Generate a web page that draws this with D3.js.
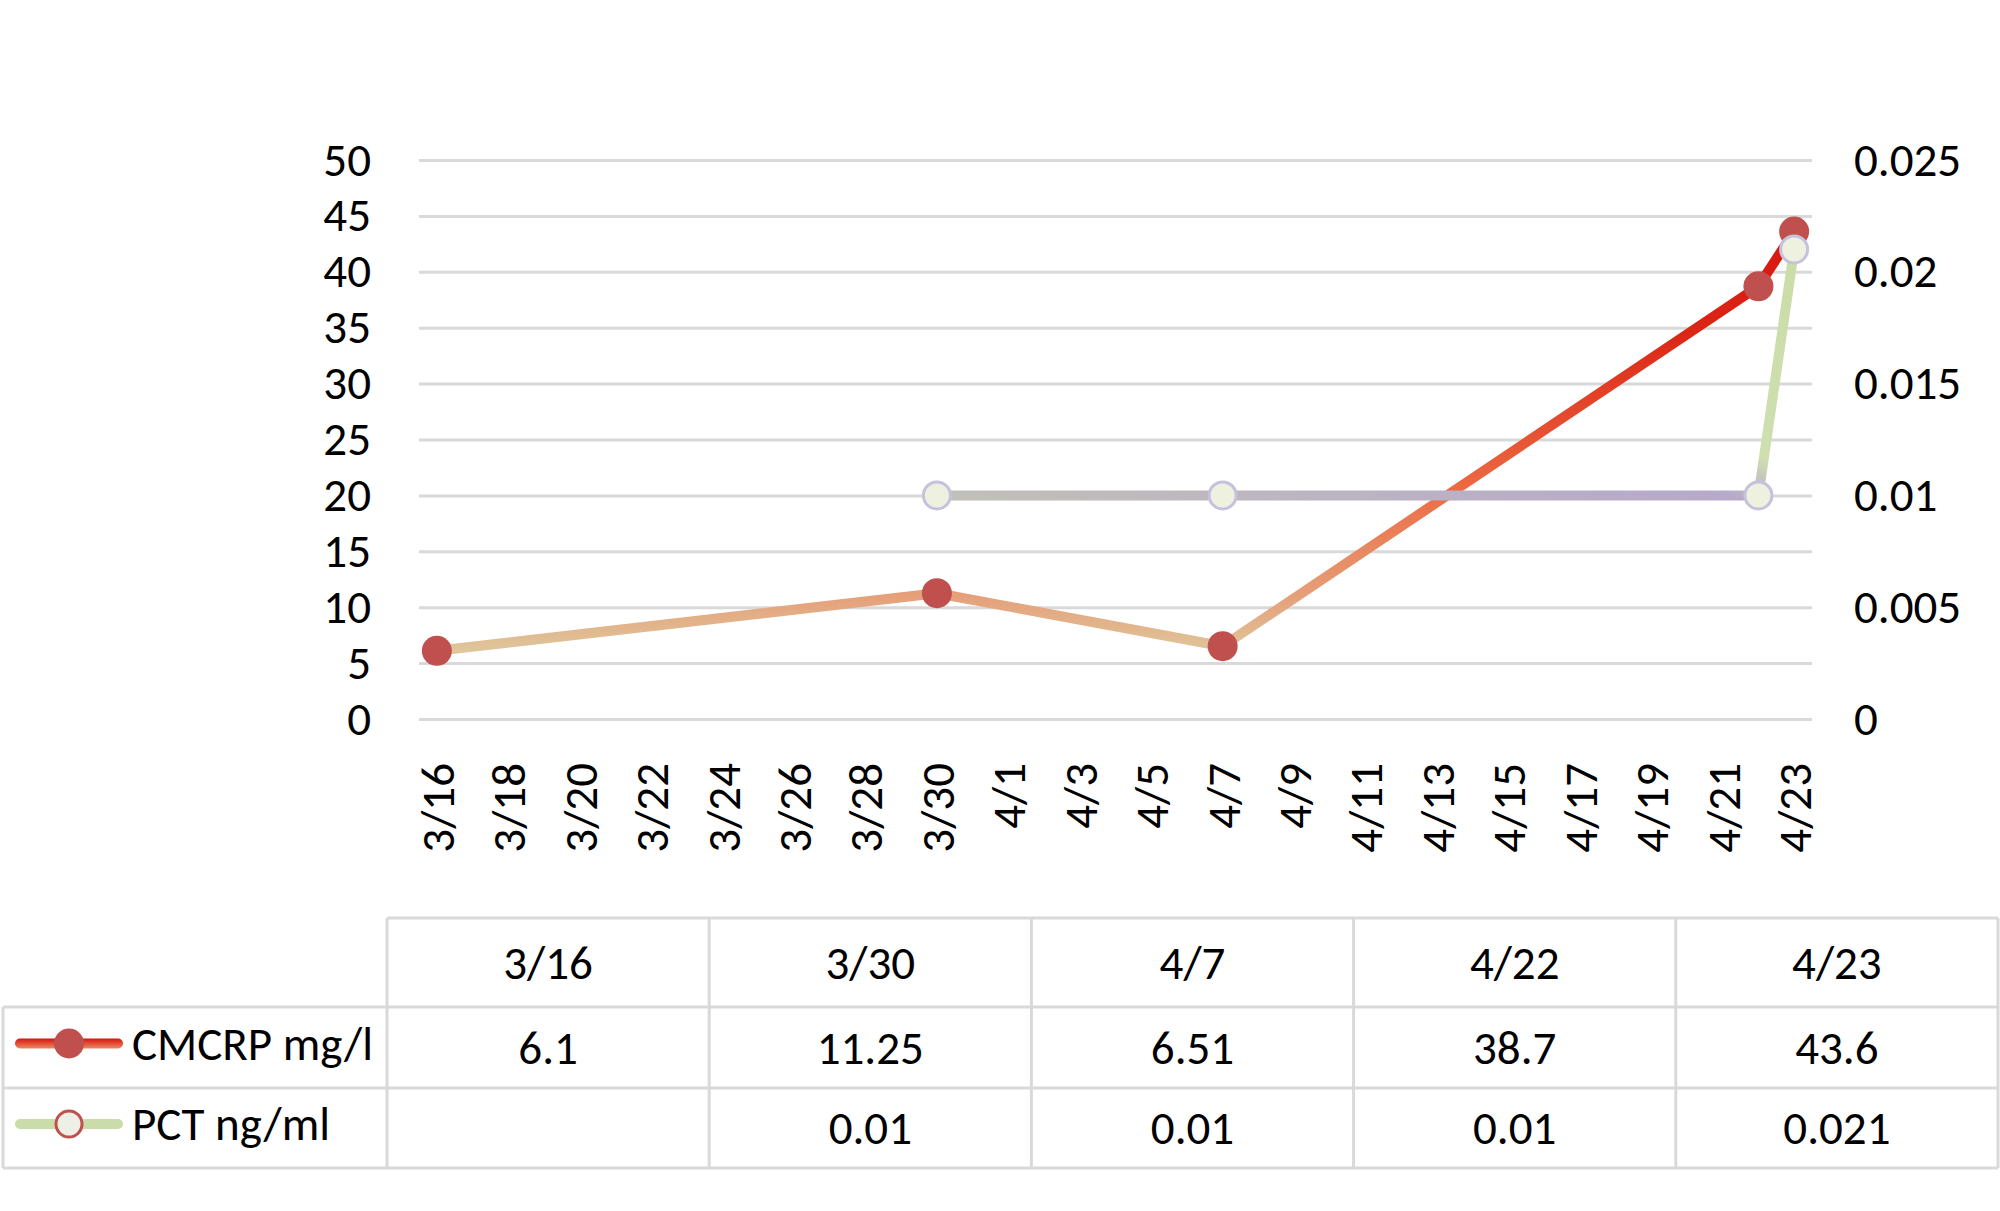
<!DOCTYPE html>
<html>
<head>
<meta charset="utf-8">
<script src="https://cdn.jsdelivr.net/npm/d3@7"></script>
<style>
  body { margin: 0; background: #fff; }
  text { font-family: Carlito, Calibri, Lato, "Liberation Sans", Arial, sans-serif; fill: #000; }
</style>
</head>
<body>
<div class="vis"></div>
<script>
// chart data
const DATES = ["3/16", "3/30", "4/7", "4/22", "4/23"];
const CMCRP = [6.1, 11.25, 6.51, 38.7, 43.6];
const PCT = [null, 0.01, 0.01, 0.01, 0.021];
const SERIES_NAMES = ["CMCRP mg/l", "PCT ng/ml"];
const LEFT_TICKS = [0, 5, 10, 15, 20, 25, 30, 35, 40, 45, 50];
const RIGHT_TICKS = [0, 0.005, 0.01, 0.015, 0.02, 0.025];
const X_TICK_LABELS = ["3/16", "3/18", "3/20", "3/22", "3/24", "3/26", "3/28", "3/30",
  "4/1", "4/3", "4/5", "4/7", "4/9", "4/11", "4/13", "4/15", "4/17", "4/19", "4/21", "4/23"];

const FRAME_WIDTH = 2000;
const FRAME_HEIGHT = 1211;
const PLOT = {left: 419, right: 1812, top: 160, bottom: 719};
const FONT = 47;

const parseDay = (s) => {
  const [m, d] = s.split("/").map(Number);
  return new Date(Date.UTC(2020, m - 1, d));
};
const HALF_DAY = 12 * 3600 * 1000;

const FRAME = d3.select(".vis")
  .append("svg")
    .attr("width", FRAME_WIDTH)
    .attr("height", FRAME_HEIGHT);

// scales
const X_SCALE = d3.scaleUtc()
  .domain([new Date(+parseDay("3/16") - HALF_DAY), new Date(+parseDay("4/23") + HALF_DAY)])
  .range([PLOT.left, PLOT.right]);
const Y_LEFT = d3.scaleLinear().domain([0, 50]).range([PLOT.bottom, PLOT.top]);
const Y_RIGHT = d3.scaleLinear().domain([0, 0.025]).range([PLOT.bottom, PLOT.top]);

// gridlines
const grid = FRAME.append("g")
  .attr("transform", "translate(" + PLOT.left + ",0)")
  .call(d3.axisLeft(Y_LEFT).tickValues(LEFT_TICKS).tickSize(-(PLOT.right - PLOT.left)).tickFormat(""));
grid.select(".domain").remove();
grid.selectAll("line").attr("stroke", "#d9d9d9").attr("stroke-width", 3);

// left axis
const leftAxis = FRAME.append("g")
  .attr("transform", "translate(" + PLOT.left + ",0)")
  .call(d3.axisLeft(Y_LEFT).tickValues(LEFT_TICKS).tickSize(0).tickPadding(48));
leftAxis.select(".domain").remove();
leftAxis.attr("font-family", null);
leftAxis.selectAll("text").attr("font-size", FONT);

// right axis
const rightAxis = FRAME.append("g")
  .attr("transform", "translate(" + PLOT.right + ",0)")
  .call(d3.axisRight(Y_RIGHT).tickValues(RIGHT_TICKS).tickSize(0).tickPadding(42)
    .tickFormat((d) => String(+d.toFixed(3))));
rightAxis.select(".domain").remove();
rightAxis.attr("font-family", null);
rightAxis.selectAll("text").attr("font-size", FONT);

// x axis with rotated date labels
const xAxis = FRAME.append("g")
  .attr("transform", "translate(0," + PLOT.bottom + ")")
  .call(d3.axisBottom(X_SCALE).tickValues(X_TICK_LABELS.map(parseDay)).tickSize(0)
    .tickFormat((d, i) => X_TICK_LABELS[i]));
xAxis.select(".domain").remove();
xAxis.attr("font-family", null);
xAxis.selectAll("text")
  .attr("font-size", FONT)
  .attr("y", 0)
  .attr("dy", "0.35em")
  .attr("text-anchor", "end")
  .attr("transform", "translate(0,44) rotate(-90)");

// gradients
const defs = FRAME.append("defs");
const gCrp = defs.append("linearGradient")
  .attr("id", "gradCrp")
  .attr("gradientUnits", "userSpaceOnUse")
  .attr("x1", 0).attr("x2", 0)
  .attr("y1", Y_LEFT(6)).attr("y2", Y_LEFT(44));
[[0, "#dfc79c"], [0.13, "#e5a07a"], [0.38, "#ec6b44"], [0.75, "#dc2615"], [1, "#d7140e"]]
  .forEach(([o, c]) => gCrp.append("stop").attr("offset", o).attr("stop-color", c));

const gPct = defs.append("linearGradient")
  .attr("id", "gradPct")
  .attr("x1", 0).attr("y1", 1).attr("x2", 1).attr("y2", 0);
[[0, "#c0c0b8"], [0.46, "#b6a9cb"], [0.56, "#cfdfb0"], [1, "#cbdca8"]]
  .forEach(([o, c]) => gPct.append("stop").attr("offset", o).attr("stop-color", c));

// data rows
const crpData = DATES.map((d, i) => ({date: parseDay(d), v: CMCRP[i]}));
const pctData = DATES.map((d, i) => ({date: parseDay(d), v: PCT[i]})).filter((d) => d.v !== null);

// CMCRP line and markers
FRAME.append("path")
  .datum(crpData)
  .attr("fill", "none")
  .attr("stroke", "url(#gradCrp)")
  .attr("stroke-width", 10)
  .attr("stroke-linejoin", "round")
  .attr("d", d3.line().x((d) => X_SCALE(d.date)).y((d) => Y_LEFT(d.v)));

FRAME.selectAll(".crpDot")
  .data(crpData)
  .enter().append("circle")
  .attr("class", "crpDot")
  .attr("cx", (d) => X_SCALE(d.date))
  .attr("cy", (d) => Y_LEFT(d.v))
  .attr("r", 15)
  .attr("fill", "#c0504d");

// PCT line and markers
FRAME.append("path")
  .datum(pctData)
  .attr("fill", "none")
  .attr("stroke", "url(#gradPct)")
  .attr("stroke-width", 10)
  .attr("stroke-linejoin", "round")
  .attr("d", d3.line().x((d) => X_SCALE(d.date)).y((d) => Y_RIGHT(d.v)));

FRAME.selectAll(".pctDot")
  .data(pctData)
  .enter().append("circle")
  .attr("class", "pctDot")
  .attr("cx", (d) => X_SCALE(d.date))
  .attr("cy", (d) => Y_RIGHT(d.v))
  .attr("r", 13.5)
  .attr("fill", "#eef0e0")
  .attr("stroke", "#c6c2dd")
  .attr("stroke-width", 3);

// data table
const TABLE = {left: 3, firstCol: 387, right: 1998, rows: [918, 1007, 1088, 1168]};
const COL_SCALE = d3.scaleBand().domain(DATES).range([TABLE.firstCol, TABLE.right]);
const table = FRAME.append("g");
const border = "#d9d9d9";

table.selectAll(".hline")
  .data(TABLE.rows)
  .enter().append("line")
  .attr("x1", (d, i) => i === 0 ? TABLE.firstCol : TABLE.left)
  .attr("x2", TABLE.right)
  .attr("y1", (d) => d).attr("y2", (d) => d)
  .attr("stroke", border).attr("stroke-width", 3);

table.selectAll(".vline")
  .data([TABLE.firstCol].concat(DATES.map((d) => COL_SCALE(d) + COL_SCALE.bandwidth())))
  .enter().append("line")
  .attr("x1", (d) => d).attr("x2", (d) => d)
  .attr("y1", TABLE.rows[0]).attr("y2", TABLE.rows[3])
  .attr("stroke", border).attr("stroke-width", 3);

table.append("line")
  .attr("x1", TABLE.left).attr("x2", TABLE.left)
  .attr("y1", TABLE.rows[1]).attr("y2", TABLE.rows[3])
  .attr("stroke", border).attr("stroke-width", 3);

const rowMid = (r) => (TABLE.rows[r] + TABLE.rows[r + 1]) / 2;

table.selectAll(".hdr")
  .data(DATES)
  .enter().append("text")
  .attr("x", (d) => COL_SCALE(d) + COL_SCALE.bandwidth() / 2)
  .attr("y", rowMid(0))
  .attr("dy", "0.35em")
  .attr("text-anchor", "middle")
  .attr("font-size", FONT)
  .text((d) => d);

[CMCRP, PCT].forEach((vals, r) => {
  table.selectAll(".val" + r)
    .data(vals)
    .enter().append("text")
    .attr("x", (d, i) => COL_SCALE(DATES[i]) + COL_SCALE.bandwidth() / 2)
    .attr("y", rowMid(r + 1))
    .attr("dy", "0.35em")
    .attr("text-anchor", "middle")
    .attr("font-size", FONT)
    .text((d) => d === null ? "" : d);
});

// legend keys inside the table
const gLeg = defs.append("linearGradient")
  .attr("id", "gradLeg").attr("x1", 0).attr("x2", 0).attr("y1", 0).attr("y2", 1);
gLeg.append("stop").attr("offset", 0).attr("stop-color", "#d7140e");
gLeg.append("stop").attr("offset", 1).attr("stop-color", "#eb8a62");

const legendStyle = [
  {stroke: "url(#gradLeg)", fill: "#c0504d", ring: "none"},
  {stroke: "#c9dcaa", fill: "#eeefe6", ring: "#c0504d"}
];
SERIES_NAMES.forEach((name, r) => {
  const y = rowMid(r + 1) - 4;
  const s = legendStyle[r];
  table.append("rect")
    .attr("x", 15).attr("y", y - 5).attr("width", 108).attr("height", 10)
    .attr("rx", 5).attr("fill", s.stroke);
  table.append("circle")
    .attr("cx", 69).attr("cy", y)
    .attr("r", s.ring === "none" ? 15 : 13)
    .attr("fill", s.fill)
    .attr("stroke", s.ring)
    .attr("stroke-width", 3);
  table.append("text")
    .attr("x", 132).attr("y", y)
    .attr("dy", "0.35em")
    .attr("font-size", FONT)
    .text(name);
});
</script>
</body>
</html>
